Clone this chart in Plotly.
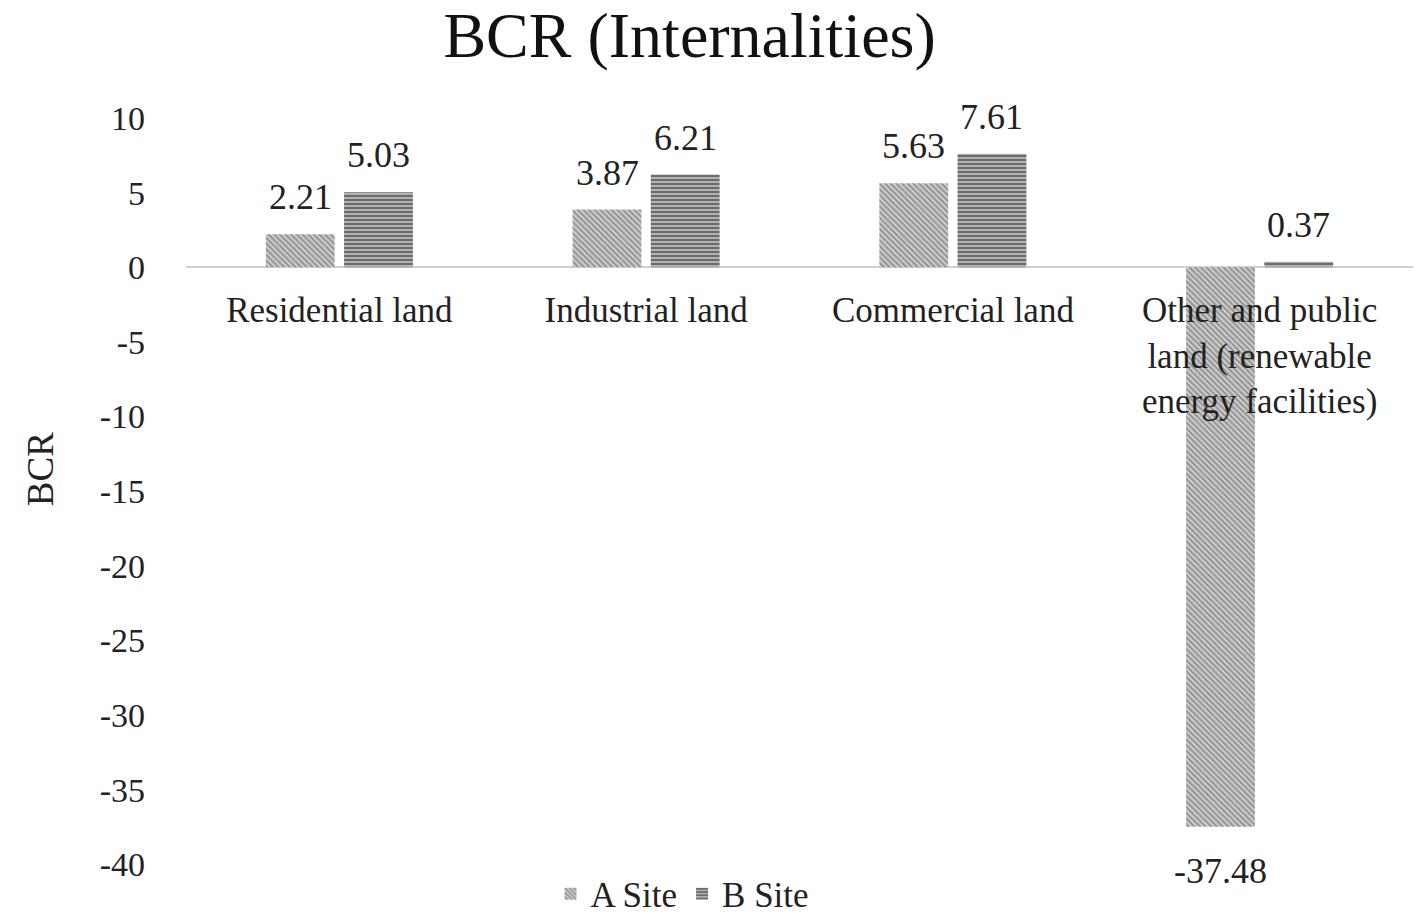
import plotly.graph_objects as go

categories = [
    "Residential land",
    "Industrial land",
    "Commercial land",
    "Other and public<br>land (renewable<br>energy facilities)",
]
a_site = [2.21, 3.87, 5.63, -37.48]
b_site = [5.03, 6.21, 7.61, 0.37]
y_ticks = [10, 5, 0, -5, -10, -15, -20, -25, -30, -35, -40]

font_family = "Liberation Serif"
text_color = "#222222"

width, height = 1416, 914
margin = dict(l=186, r=3, t=118, b=46)
bargap = 0.49

fig = go.Figure()

fig.add_trace(
    go.Bar(
        name="A Site",
        x=categories,
        y=a_site,
        marker=dict(
            color="white",
            line=dict(width=0),
            pattern=dict(shape="\\", fgcolor="#555555", bgcolor="#cfcfcf", size=4, solidity=0.5),
        ),
    )
)
fig.add_trace(
    go.Bar(
        name="B Site",
        x=categories,
        y=b_site,
        marker=dict(
            color="white",
            line=dict(width=0),
            pattern=dict(shape="-", fgcolor="#1e1e1e", bgcolor="#b8b8b8", size=4, solidity=0.55),
        ),
    )
)

# value labels a little further off the bar ends than plotly's own outside text
plot_w = width - margin["l"] - margin["r"]
half_slot = plot_w / len(categories) * (1 - bargap) / 4
for series, shift in ((a_site, -half_slot), (b_site, half_slot)):
    for cat, v in zip(categories, series):
        fig.add_annotation(
            x=cat,
            y=v,
            text=f"{v:.2f}",
            showarrow=False,
            xshift=shift,
            yanchor="bottom" if v >= 0 else "top",
            yshift=15 if v >= 0 else -22,
            font=dict(size=36, color=text_color, family=font_family),
        )

# category labels sit right under the zero line
fig.update_xaxes(
    anchor="free",
    position=0.8,
    automargin=False,
    showline=False,
    showgrid=False,
    ticks="",
    ticklabelstandoff=19,
    tickfont=dict(size=35, color=text_color, family=font_family),
)

fig.update_yaxes(
    range=[-40, 10],
    tickvals=y_ticks,
    ticktext=[str(v) for v in y_ticks],
    automargin=False,
    showgrid=False,
    showline=False,
    zeroline=True,
    zerolinecolor="#d0d0d0",
    zerolinewidth=2,
    ticks="",
    ticklabelstandoff=40,
    tickfont=dict(size=34, color=text_color, family=font_family),
)

# y axis title
fig.add_annotation(
    text="BCR",
    xref="paper",
    yref="paper",
    x=-0.137,
    y=0.53,
    textangle=-90,
    showarrow=False,
    font=dict(size=37, color=text_color, family=font_family),
)

fig.update_layout(
    width=width,
    height=height,
    paper_bgcolor="white",
    plot_bgcolor="white",
    margin=margin,
    bargap=bargap,
    bargroupgap=0.12,
    title=dict(
        text="BCR (Internalities)",
        x=0.487,
        xanchor="center",
        y=0.962,
        yanchor="middle",
        font=dict(size=64, color="#111111", family=font_family),
    ),
    legend=dict(
        orientation="h",
        xref="container",
        yref="container",
        x=0.482,
        xanchor="center",
        y=0.022,
        yanchor="middle",
        font=dict(size=35, color=text_color, family=font_family),
        itemwidth=30,
    ),
    showlegend=True,
)

fig.write_html(
    "out.html",
    config={"displayModeBar": False},
    post_script="document.body.style.margin='0';",
)
